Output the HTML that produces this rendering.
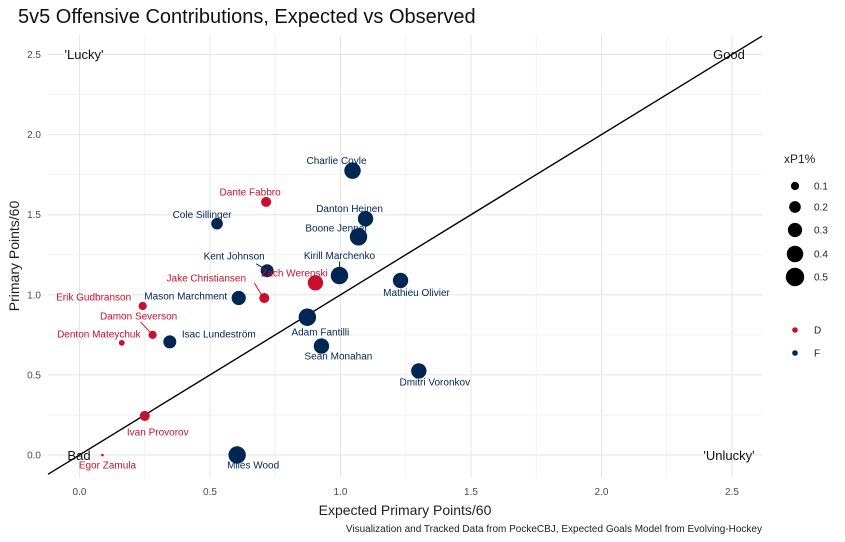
<!DOCTYPE html>
<html><head><meta charset="utf-8"><style>
body{margin:0;background:#fff;}
svg{display:block;font-family:"Liberation Sans",sans-serif;}
</style></head><body>
<svg id="chart" width="845" height="542">
<text x="18" y="23" font-size="20" fill="#111">5v5 Offensive Contributions, Expected vs Observed</text>
<g id="grid"></g>
<g id="axes"></g>
<line id="diag" stroke="#000" stroke-width="1.4"/>
<g id="marks"></g>
<g id="labels"></g>
<text x="84" y="59" font-size="13" text-anchor="middle" fill="#111">'Lucky'</text>
<text x="729" y="59" font-size="13" text-anchor="middle" fill="#111">Good</text>
<text x="79" y="460" font-size="13" text-anchor="middle" fill="#111">Bad</text>
<text x="729" y="460" font-size="13" text-anchor="middle" fill="#111">'Unlucky'</text>
<text x="405" y="515" font-size="14" text-anchor="middle" fill="#222">Expected Primary Points/60</text>
<text transform="translate(19,256) rotate(-90)" font-size="14" text-anchor="middle" fill="#222">Primary Points/60</text>
<text x="762" y="532" font-size="10" text-anchor="end" fill="#222">Visualization and Tracked Data from PockeCBJ, Expected Goals Model from Evolving-Hockey</text>
<g id="legend">
<text x="784" y="163" font-size="12" fill="#222">xP1%</text>
</g>
</svg>
<script>
const names=["Charlie Coyle","Dante Fabbro","Danton Heinen","Cole Sillinger","Boone Jenner","Kent Johnson","Kirill Marchenko","Zach Werenski","Mathieu Olivier","Jake Christiansen","Mason Marchment","Erik Gudbranson","Adam Fantilli","Damon Severson","Isac Lundeström","Denton Mateychuk","Sean Monahan","Dmitri Voronkov","Ivan Provorov","Egor Zamula","Miles Wood"];
const xP=[1.046,0.715,1.096,0.527,1.069,0.719,0.996,0.904,1.23,0.708,0.61,0.242,0.873,0.28,0.346,0.162,0.927,1.3,0.25,0.088,0.604];
const P=[1.775,1.58,1.475,1.444,1.362,1.15,1.12,1.075,1.09,0.98,0.98,0.93,0.86,0.75,0.706,0.70,0.68,0.525,0.244,0.0,0.0];
const share=[0.4,0.15,0.35,0.2,0.45,0.25,0.45,0.35,0.35,0.15,0.3,0.1,0.45,0.1,0.25,0.05,0.35,0.35,0.15,0.01,0.45];
const pos=["F","D","F","F","F","F","F","D","F","D","F","D","F","D","F","D","F","F","D","D","F"];
const xTicks=[0,0.5,1,1.5,2,2.5];
const yTicks=[0,0.5,1,1.5,2,2.5];
const sizeLegend=[0.1,0.2,0.3,0.4,0.5];
const posLegend=["D","F"];
// label layout offsets (pixels relative to point), not data
const lblOff=[[-16,-10],[-16,-10],[-16,-10],[-15,-9],[-22,-9],[-33,-15],[0,-20],[-21,-10],[16,12],[-58,-20],[-53,-2],[-49,-9],[13,15],[-14,-19],[49,-8],[-23,-9],[17,10],[16,11],[13,16],[5,10],[16,10]];
const leaders={5:[[-11,-7],[-1,-1]],6:[[0,-14],[0,-6]],9:[[-10,-15],[-2,-2]],13:[[-12,-13],[-3,-3]]};
const NS="http://www.w3.org/2000/svg";
const X=v=>79.5+v*261, Y=v=>455-v*160.2, R=s=>13*Math.sqrt(s);
const col={D:"#c8102e",F:"#002654"};
function mk(t,a,p){const e=document.createElementNS(NS,t);for(const k in a)e.setAttribute(k,a[k]);p.appendChild(e);return e;}
const grid=document.getElementById('grid'),axes=document.getElementById('axes');
for(let i=0;i<xTicks.length;i++){const v=xTicks[i];
 const l=mk('line',{x1:X(v),x2:X(v),y1:35,y2:478,stroke:'#e6e6e6','stroke-width':1},grid);
 
 if(i<xTicks.length-1){const m=mk('line',{x1:X(v+0.25),x2:X(v+0.25),y1:35,y2:478,stroke:'#f2f2f2','stroke-width':1},grid);
 }
 const t=mk('text',{x:X(v),y:495,'font-size':10,'text-anchor':'middle',fill:'#4d4d4d'},axes);t.textContent=v.toFixed(1);
 }
for(let i=0;i<yTicks.length;i++){const v=yTicks[i];
 const l=mk('line',{x1:48,x2:762,y1:Y(v),y2:Y(v),stroke:'#e6e6e6','stroke-width':1},grid);
 
 if(i<yTicks.length-1){const m=mk('line',{x1:48,x2:762,y1:Y(v+0.25),y2:Y(v+0.25),stroke:'#f2f2f2','stroke-width':1},grid);
 }
 const t=mk('text',{x:41,y:Y(v)+3.5,'font-size':10,'text-anchor':'end',fill:'#4d4d4d'},axes);t.textContent=v.toFixed(1);
 }
const d=document.getElementById('diag');const lo=(48-79.5)/261,hi=(762-79.5)/261;
d.setAttribute('x1',X(lo));d.setAttribute('y1',Y(lo));d.setAttribute('x2',X(hi));d.setAttribute('y2',Y(hi));
const marks=document.getElementById('marks'),labels=document.getElementById('labels');
for(let i=0;i<names.length;i++){const cx=X(xP[i]),cy=Y(P[i]);
 const c=mk('circle',{cx:cx,cy:cy,r:R(share[i]),fill:col[pos[i]]},marks);
 
 
 if(leaders[i]){const a=leaders[i];const ln=mk('line',{x1:cx+a[0][0],y1:cy+a[0][1],x2:cx+a[1][0],y2:cy+a[1][1],stroke:col[pos[i]],'stroke-width':1},labels);
 }
 const t=mk('text',{x:cx+lblOff[i][0],y:cy+lblOff[i][1]+3.5,'font-size':10,'text-anchor':'middle',fill:col[pos[i]]},labels);
 t.textContent=names[i];
 }
const lg=document.getElementById('legend');
const ly=[186,207,230,254,277];
for(let i=0;i<sizeLegend.length;i++){
 const c=mk('circle',{cx:795,cy:ly[i],r:R(sizeLegend[i]),fill:'#000'},lg);
 
 const t=mk('text',{x:814,y:ly[i]+3.5,'font-size':10,fill:'#222'},lg);t.textContent=sizeLegend[i];
 }
for(let i=0;i<posLegend.length;i++){const y=330+i*23;
 const c=mk('circle',{cx:795,cy:y,r:2.8,fill:col[posLegend[i]]},lg);
 
 const t=mk('text',{x:814,y:y+3.5,'font-size':10,fill:'#222'},lg);t.textContent=posLegend[i];
 }
</script>
</body></html>
